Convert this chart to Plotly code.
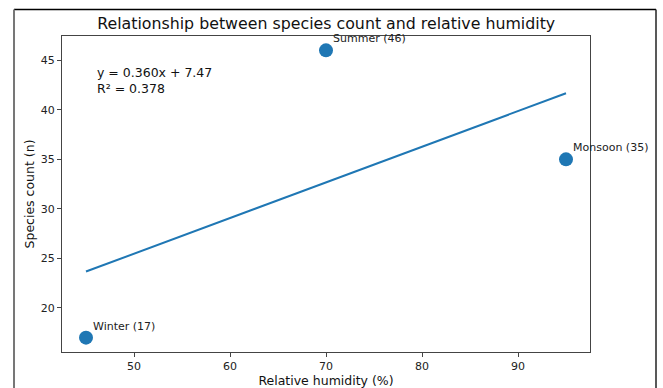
import plotly.graph_objects as go

seasons = ["Winter", "Summer", "Monsoon"]
humidity = [45, 70, 95]
species = [17, 46, 35]
slope = 0.360
intercept = 7.47
r2 = 0.378
fit_x = [45, 95]
fit_y = [slope * x + intercept for x in fit_x]

blue = "#1f77b4"
font = "DejaVu Sans"

fig = go.Figure()
fig.add_trace(go.Scatter(x=fit_x, y=fit_y, mode="lines",
                         line=dict(color=blue, width=2), showlegend=False, hoverinfo="skip"))
fig.add_trace(go.Scatter(x=humidity, y=species, mode="markers",
                         marker=dict(color=blue, size=14), showlegend=False))

for s, h, v in zip(seasons, humidity, species):
    fig.add_annotation(x=h, y=v, text=f"{s} ({v})", showarrow=False,
                       xanchor="left", yanchor="bottom", xshift=5, yshift=3,
                       font=dict(family=font, size=11, color="#222"))

fig.add_annotation(xref="paper", yref="paper", x=0.062, y=0.914, xanchor="left", yanchor="top",
                   text=f"y = {slope:.3f}x + {intercept:.2f}", showarrow=False,
                   font=dict(family=font, size=12.5, color="#111"))
fig.add_annotation(xref="paper", yref="paper", x=0.062, y=0.864, xanchor="left", yanchor="top",
                   text=f"R² = {r2:.3f}", showarrow=False,
                   font=dict(family=font, size=12.5, color="#111"))

# outer frame lines
fig.add_shape(type="line", xref="paper", yref="paper", x0=-0.0909, x1=1.125, y0=1.0839, y1=1.0839,
              line=dict(color="black", width=1.5))
fig.add_shape(type="line", xref="paper", yref="paper", x0=-0.0909, x1=-0.0909, y0=1.0839, y1=-0.2,
              line=dict(color="#777", width=2))
fig.add_shape(type="line", xref="paper", yref="paper", x0=1.125, x1=1.125, y0=1.0839, y1=-0.2,
              line=dict(color="#222", width=1.5))

axis_common = dict(showgrid=False, zeroline=False, showline=True, mirror=True, automargin=False,
                   linecolor="#444", linewidth=1, ticks="outside", ticklen=4,
                   tickcolor="#444", tickfont=dict(family=font, size=11, color="#222"))

fig.update_layout(
    width=663, height=388,
    margin=dict(l=62, r=73, t=36, b=36),
    paper_bgcolor="white", plot_bgcolor="white",
    title=dict(text="Relationship between species count and relative humidity",
               x=0.492, xanchor="center", y=0.939, yanchor="middle",
               font=dict(family=font, size=15.8, color="#111")),
    xaxis=dict(range=[42.5, 97.5], tickvals=[50, 60, 70, 80, 90],
               title=dict(text="Relative humidity (%)", standoff=4,
                          font=dict(family=font, size=12.5, color="#111")),
               **axis_common),
    yaxis=dict(range=[15.55, 47.45], tickvals=[20, 25, 30, 35, 40, 45],
               title=dict(text="Species count (n)", standoff=3,
                          font=dict(family=font, size=12.5, color="#111")),
               **axis_common),
)

fig.write_html("out.html")
